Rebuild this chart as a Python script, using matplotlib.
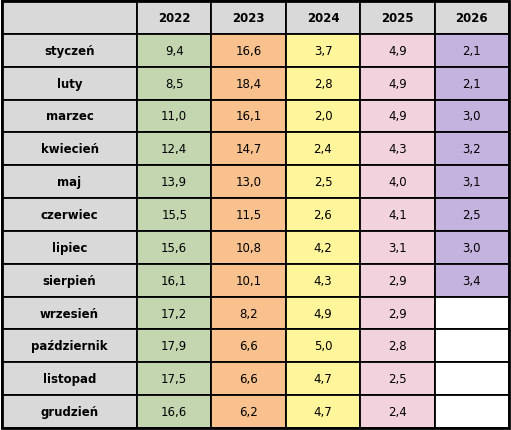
import matplotlib
matplotlib.use("Agg")
import matplotlib.pyplot as plt
from matplotlib.patches import Rectangle

years = ["2022", "2023", "2024", "2025", "2026"]
months = ["styczeń", "luty", "marzec", "kwiecień", "maj", "czerwiec", "lipiec",
          "sierpień", "wrzesień", "październik", "listopad", "grudzień"]
v2022 = [9.4, 8.5, 11.0, 12.4, 13.9, 15.5, 15.6, 16.1, 17.2, 17.9, 17.5, 16.6]
v2023 = [16.6, 18.4, 16.1, 14.7, 13.0, 11.5, 10.8, 10.1, 8.2, 6.6, 6.6, 6.2]
v2024 = [3.7, 2.8, 2.0, 2.4, 2.5, 2.6, 4.2, 4.3, 4.9, 5.0, 4.7, 4.7]
v2025 = [4.9, 4.9, 4.9, 4.3, 4.0, 4.1, 3.1, 2.9, 2.9, 2.8, 2.5, 2.4]
v2026 = [2.1, 2.1, 3.0, 3.2, 3.1, 2.5, 3.0, 3.4, None, None, None, None]
series = [v2022, v2023, v2024, v2025, v2026]
colors = ["#c4d6b0", "#f8c18e", "#fff59a", "#f2d3dd", "#c5b3df"]

W, H = 511, 431
fig = plt.figure(figsize=(W/100, H/100), dpi=100)
ax = fig.add_axes([0, 0, 1, 1])
ax.set_xlim(0, W); ax.set_ylim(H, 0); ax.axis("off")

x0, y0 = 2, 2
c0w = 135
cw = (509 - x0 - c0w) / 5
rh = (429 - y0) / 13
gray = "#d9d9d9"
lw = 1.3

def cell(x, y, w, h, fc, txt, bold):
    ax.add_patch(Rectangle((x, y), w, h, facecolor=fc, edgecolor="black", linewidth=lw))
    if txt:
        ax.text(x + w/2, y + h/2, txt, ha="center", va="center", fontsize=8.5,
                fontweight="bold" if bold else "normal", family="DejaVu Sans")

cell(x0, y0, c0w, rh, gray, "", True)
for j, yr in enumerate(years):
    cell(x0 + c0w + j*cw, y0, cw, rh, gray, yr, True)
for i, m in enumerate(months):
    y = y0 + (i+1)*rh
    cell(x0, y, c0w, rh, gray, m, True)
    for j, s in enumerate(series):
        v = s[i]
        if v is None:
            cell(x0 + c0w + j*cw, y, cw, rh, "white", "", False)
        else:
            cell(x0 + c0w + j*cw, y, cw, rh, colors[j], f"{v:.1f}".replace(".", ","), False)
ax.add_patch(Rectangle((x0, y0), 509-x0, 429-y0, fill=False, edgecolor="black", linewidth=2))
fig.savefig("out.png", dpi=100)
